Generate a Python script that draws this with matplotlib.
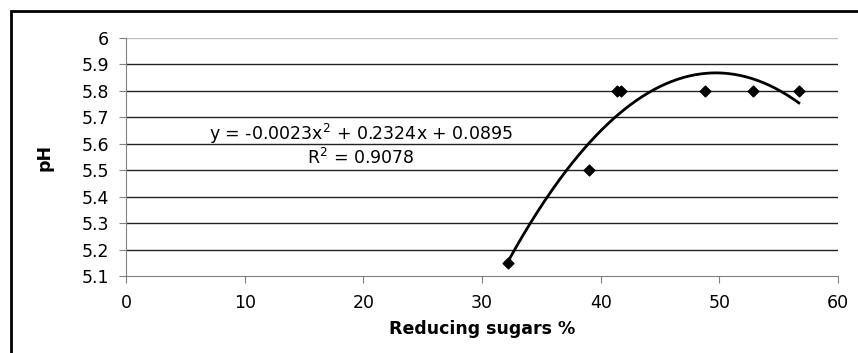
import numpy as np
import matplotlib
matplotlib.use('Agg')
import matplotlib.pyplot as plt
from matplotlib.patches import Rectangle

# data
sugars = [32.2, 39.0, 41.4, 41.7, 48.8, 52.8, 56.7]
ph = [5.15, 5.5, 5.8, 5.8, 5.8, 5.8, 5.8]
eq_text = 'y = -0.0023x$^2$ + 0.2324x + 0.0895'
r2_text = 'R$^2$ = 0.9078'

plt.rcParams['font.family'] = ['DejaVu Sans']
plt.rcParams['mathtext.fontset'] = 'dejavusans'
fs = 12.5

fig = plt.figure(figsize=(8.58, 3.53), dpi=100)
ax = fig.add_axes([126/858, 1-276/353, (838-126)/858, (276-38)/353])

# outer frame (only left and top visible)
fig.patches.append(Rectangle((11/858, -0.5), 2, 1.5 - 11/353, transform=fig.transFigure,
                             fill=False, edgecolor='black', linewidth=2))

# trendline
coef = np.polyfit(sugars, ph, 2)
xs = np.linspace(min(sugars), max(sugars), 200)
ax.plot(xs, np.polyval(coef, xs), color='black', lw=2, zorder=3)

ax.scatter(sugars, ph, marker='D', s=30, color='black', zorder=4)

ax.set_xlim(0, 60)
ax.set_ylim(5.1, 6.0)
ax.set_xticks(np.arange(0, 61, 10))
ax.set_yticks(np.round(np.arange(5.1, 6.01, 0.1), 1))
ax.set_yticklabels(['5.1', '5.2', '5.3', '5.4', '5.5', '5.6', '5.7', '5.8', '5.9', '6'])

for yv in np.arange(5.2, 5.95, 0.1):
    ax.axhline(yv, color='#222222', lw=1, zorder=1)
ax.axhline(6.0, color='#c0c0c0', lw=1, zorder=1)

for s in ['top', 'right']:
    ax.spines[s].set_visible(False)
for s in ['left', 'bottom']:
    ax.spines[s].set_color('#808080')
ax.tick_params(axis='both', direction='out', length=5, color='#808080', labelsize=fs)
ax.tick_params(axis='y', pad=7)
ax.tick_params(axis='x', pad=8)

ax.set_xlabel('Reducing sugars %', fontsize=fs, fontweight='bold', labelpad=6)
ax.set_ylabel('pH', fontsize=fs, fontweight='bold', labelpad=20)

ax.text(19.8, 5.637, eq_text, fontsize=fs, ha='center', va='center')
ax.text(19.8, 5.545, r2_text, fontsize=fs, ha='center', va='center')

fig.savefig('out.png', dpi=100)
